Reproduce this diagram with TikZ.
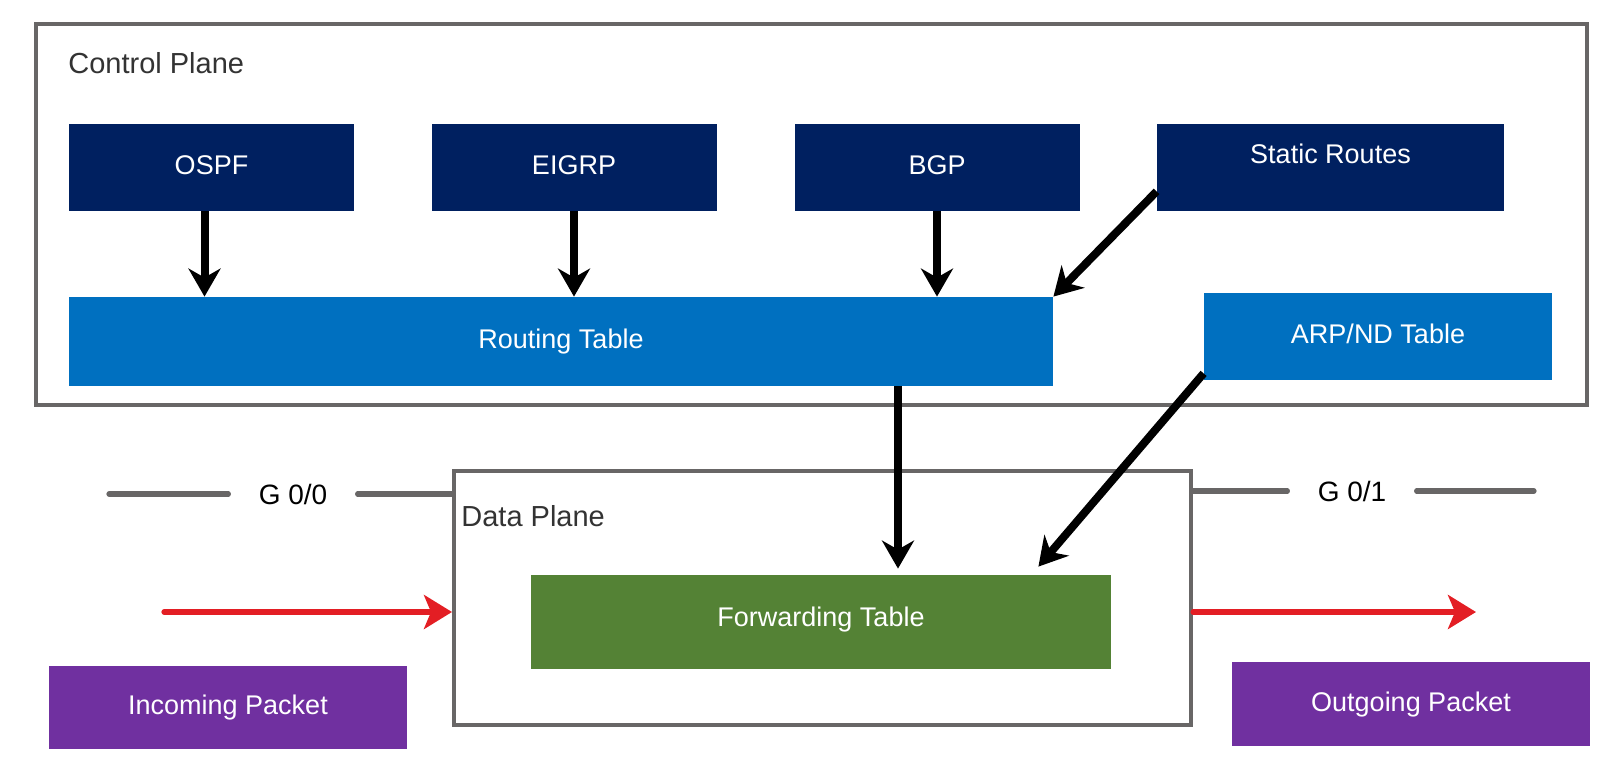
\documentclass[tikz,border=0pt]{standalone}
\usepackage{fontspec}
\setmainfont{Liberation Sans}
\usepackage{tikz}
\usepackage{xcolor}
\usetikzlibrary{arrows.meta}

\definecolor{navy}{HTML}{002060}
\definecolor{tblblue}{HTML}{0070C0}
\definecolor{fwdgreen}{HTML}{548235}
\definecolor{pktpurple}{HTML}{7030A0}
\definecolor{pktred}{HTML}{E31E24}
\definecolor{framegray}{HTML}{686666}
\definecolor{lblgray}{HTML}{333333}

\begin{document}
\begin{tikzpicture}[x=0.5pt,y=-0.5pt,
  box/.style={text=white,font=\fontsize{13.5}{16}\selectfont,inner sep=0pt,
    text height=10pt,text depth=3pt},
  proto/.style={box,fill=navy,minimum width=142.5pt,minimum height=43.5pt},
  frame/.style={draw=framegray,line width=2pt,inner sep=0pt},
  plane/.style={anchor=west,inner sep=0pt,text=lblgray,font=\fontsize{14.5}{17}\selectfont},
  port/.style={inner xsep=15pt,inner ysep=0pt,font=\fontsize{14}{17}\selectfont},
  wire/.style={draw=framegray,line width=2.6pt,line cap=round},
  flow/.style={line width=4pt,-{Stealth[length=14pt,width=16pt,inset=4.5pt]}},
  pkt/.style={draw=pktred,line width=2.6pt,line cap=round,
    -{Stealth[length=14pt,width=17pt,inset=3.5pt]}}]
\useasboundingbox (0,0) rectangle (1601,770);

% the two planes
\node[frame,anchor=north west,minimum width=775.5pt,minimum height=190.5pt] (ctrl) at (34,22) {};
\node[plane] (ctrllbl) at (68,63) {Control Plane};
\node[frame,anchor=north west,minimum width=368.5pt,minimum height=127pt] (dplane) at (452,469) {};
\node[plane] (dlbl) at (461,516) {Data Plane};

% route sources
\node[proto] (ospf) at (211.5,167.5) {OSPF};
\node[proto] (eigrp) at (574,167.5) {EIGRP};
\node[proto] (bgp) at (937,167.5) {BGP};
\node[proto,minimum width=173.5pt,text depth=14pt] (static) at (1330.5,167.5) {Static Routes};

% tables
\node[box,fill=tblblue,minimum width=492pt,minimum height=44.5pt] (rt) at (561,341.5) {Routing Table};
\node[box,fill=tblblue,minimum width=174pt,minimum height=43.5pt] (arp) at (1378,336.5) {ARP/ND Table};
\node[box,fill=fwdgreen,minimum width=290pt,minimum height=47pt,text depth=6pt] (fwd) at (821,622) {Forwarding Table};

% packets
\node[box,fill=pktpurple,minimum width=179pt,minimum height=41.5pt] (inpkt) at (228,707.5) {Incoming Packet};
\node[box,fill=pktpurple,minimum width=179pt,minimum height=42pt] (outpkt) at (1411,704) {Outgoing Packet};

% interfaces
\node[port] (g00) at (293,494) {G 0/0};
\node[port] (g01) at (1352,491) {G 0/1};
\coordinate (wl) at (109,494);
\coordinate (wr) at (1534,491);
\draw[wire] (wl) -- (g00.west);
\draw[wire] (g00.east) -- (g00.east -| dplane.west);
\draw[wire] (g01.west -| dplane.east) -- (g01.west);
\draw[wire] (g01.east) -- (wr);

% into the routing table
\draw[flow] ([xshift=-3.5pt]ospf.south) -- ([xshift=-3.5pt]ospf.south |- rt.north);
\draw[flow] (eigrp.south) -- (eigrp.south |- rt.north);
\draw[flow] (bgp.south) -- (bgp.south |- rt.north);
\draw[flow] ([yshift=10pt]static.south west) -- (rt.north east);

% into the forwarding table
\coordinate (drop) at ([xshift=168.5pt]rt.south);
\draw[flow,shorten >=3pt] (drop) -- (drop |- fwd.north);
\draw[flow] ([yshift=3.5pt]arp.south west) -- ([xshift=-36.5pt,yshift=4pt]fwd.north east);

% packet path
\coordinate (inpt) at (164,612);
\coordinate (outpt) at (1476,612);
\draw[pkt] (inpt) -- (inpt -| dplane.west);
\draw[pkt] (outpt -| dplane.east) -- (outpt);
\end{tikzpicture}
\end{document}
